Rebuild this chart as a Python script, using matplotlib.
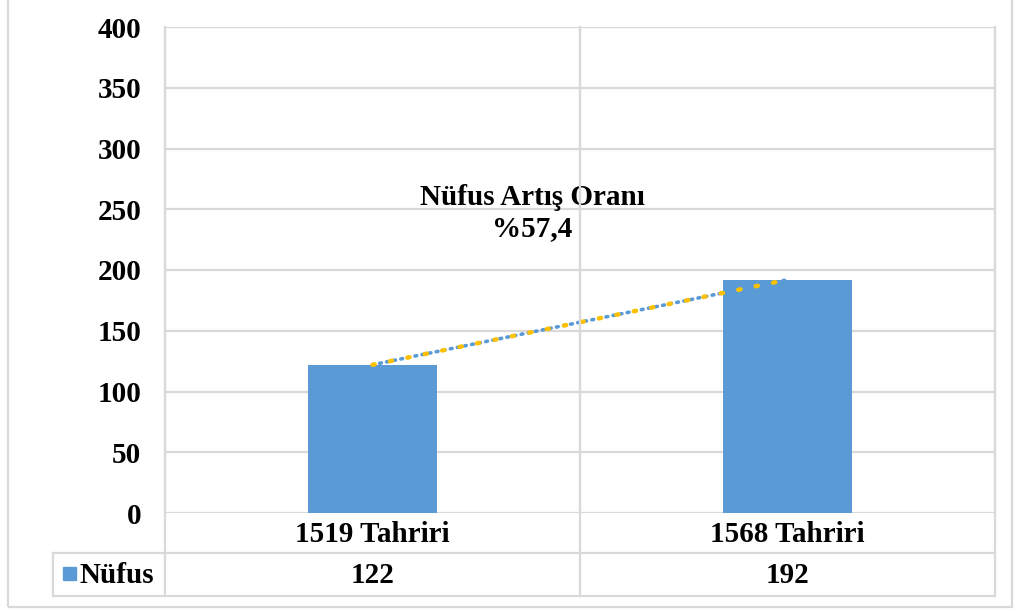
import matplotlib.pyplot as plt
from matplotlib.lines import Line2D
from matplotlib.patches import Rectangle

categories = ['1519 Tahriri', '1568 Tahriri']
nufus = [122, 192]
series_name = 'Nüfus'
note = 'Nüfus Artış Oranı\n%57,4'
yticks = [0, 50, 100, 150, 200, 250, 300, 350, 400]

W, H = 1020, 611
BLUE = '#5b9bd5'
GRID = '#d9d9d9'
FONT = 'Liberation Serif'
FS = 21

fig = plt.figure(figsize=(W / 100, H / 100), dpi=100)


def fx(px):
    return px / W


def fy(py):
    return 1 - py / H


def hline(y, x0, x1, color=GRID, lw=1.6):
    fig.add_artist(Line2D([fx(x0), fx(x1)], [fy(y), fy(y)], color=color, lw=lw))


def vline(x, y0, y1, color=GRID, lw=1.6):
    fig.add_artist(Line2D([fx(x), fx(x)], [fy(y0), fy(y1)], color=color, lw=lw))


left, right, top, bottom = 165, 995, 27, 513
ax = fig.add_axes([fx(left), fy(bottom), fx(right - left), (bottom - top) / H])
x = list(range(len(categories)))
ax.bar(x, nufus, width=0.31, color=BLUE, zorder=2)
ax.set_xlim(-0.5, len(categories) - 0.5)
ax.set_ylim(0, 400)
ax.set_yticks(yticks)
ax.set_yticklabels([str(t) for t in yticks], fontfamily=FONT, fontweight='bold', fontsize=FS)
ax.tick_params(axis='y', length=0, pad=17)
ax.set_xticks([])
for s in ax.spines.values():
    s.set_visible(False)
for t in yticks:
    ax.axhline(t, color=GRID, lw=1.6, zorder=1)
for b in [-0.5, 0.5, 1.5]:
    ax.axvline(b, color=GRID, lw=1.6, zorder=1)

# trend lines
ax.plot(x, nufus, color=BLUE, lw=2.6, linestyle=(0, (0.5, 1.5)),
        dash_capstyle='round', zorder=3)
ax.plot(x, nufus, color='#ffc000', lw=3.2, linestyle=(0, (0.5, 3.5)),
        dash_capstyle='round', zorder=4)

ax.text(0.385, 247, note, ha='center', va='center', fontfamily=FONT,
        fontweight='bold', fontsize=FS, linespacing=1.2, zorder=5)

# data table below the plot
r0, r1, r2 = 513, 553, 596
t_left = 53
hline(r1, t_left, right)
hline(r2, t_left, right)
vline(t_left, r1, r2)
for xb in [left, (left + right) / 2, right]:
    vline(xb, top, r2)
col_w = (right - left) / len(categories)
for i, (c, v) in enumerate(zip(categories, nufus)):
    cx = left + col_w * (i + 0.5)
    fig.text(fx(cx), fy((r0 + r1) / 2 + 1), c, ha='center', va='center',
             fontfamily=FONT, fontweight='bold', fontsize=FS)
    fig.text(fx(cx), fy((r1 + r2) / 2 + 1), str(v), ha='center', va='center',
             fontfamily=FONT, fontweight='bold', fontsize=FS)
fig.add_artist(Rectangle((fx(63), fy(580)), fx(13), 13 / H, color=BLUE))
fig.text(fx(79), fy((r1 + r2) / 2 + 1), series_name, ha='left', va='center',
         fontfamily=FONT, fontweight='bold', fontsize=FS)

# outer frame
fig.add_artist(Rectangle((fx(8), fy(607)), fx(1012 - 8), 620 / H, fill=False,
                         edgecolor=GRID, lw=1.6))

fig.savefig('out.png', dpi=100)
